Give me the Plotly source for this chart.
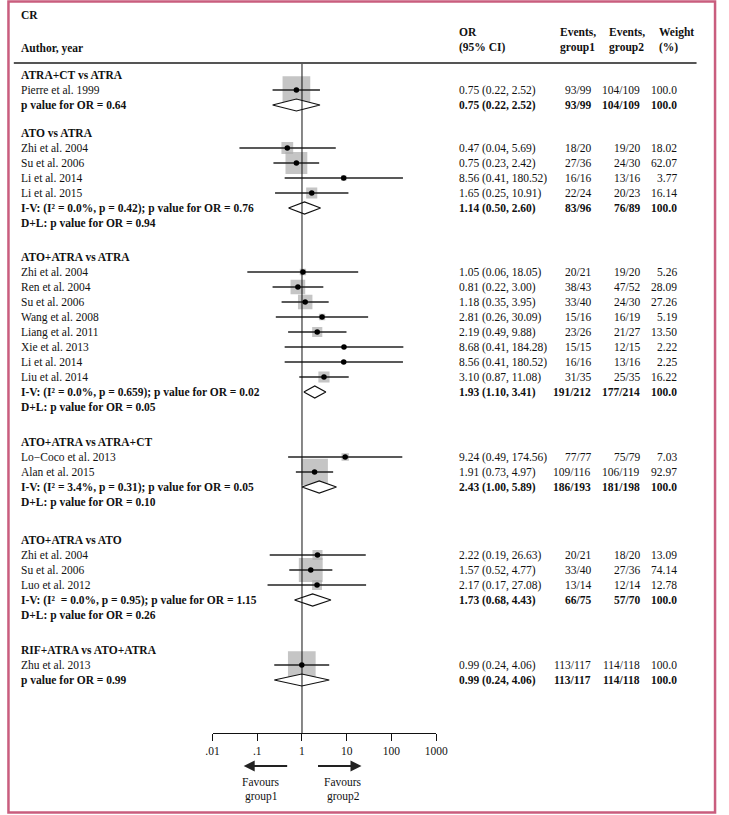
import math
import plotly.graph_objects as go

# ---------------- data ----------------
SECTION_TITLES = [
    "ATRA+CT vs ATRA",
    "ATO vs ATRA",
    "ATO+ATRA vs ATRA",
    "ATO+ATRA vs ATRA+CT",
    "ATO+ATRA vs ATO",
    "RIF+ATRA vs ATO+ATRA",
]

STUDY_SECTION = [0, 1, 1, 1, 1, 2, 2, 2, 2, 2, 2, 2, 2, 3, 3, 4, 4, 4, 5]
STUDY_NAMES = [
    "Pierre et al. 1999",
    "Zhi et al. 2004", "Su et al. 2006", "Li et al. 2014", "Li et al. 2015",
    "Zhi et al. 2004", "Ren et al. 2004", "Su et al. 2006", "Wang et al. 2008",
    "Liang et al. 2011", "Xie et al. 2013", "Li et al. 2014", "Liu et al. 2014",
    "Lo\u2212Coco et al. 2013", "Alan et al. 2015",
    "Zhi et al. 2004", "Su et al. 2006", "Luo et al. 2012",
    "Zhu et al. 2013",
]
STUDY_OR = [0.75, 0.47, 0.75, 8.56, 1.65, 1.05, 0.81, 1.18, 2.81, 2.19, 8.68, 8.56, 3.10,
            9.24, 1.91, 2.22, 1.57, 2.17, 0.99]
STUDY_LO = [0.22, 0.04, 0.23, 0.41, 0.25, 0.06, 0.22, 0.35, 0.26, 0.49, 0.41, 0.41, 0.87,
            0.49, 0.73, 0.19, 0.52, 0.17, 0.24]
STUDY_HI = [2.52, 5.69, 2.42, 180.52, 10.91, 18.05, 3.00, 3.95, 30.09, 9.88, 184.28, 180.52, 11.08,
            174.56, 4.97, 26.63, 4.77, 27.08, 4.06]
STUDY_EV1 = ["93/99", "18/20", "27/36", "16/16", "22/24", "20/21", "38/43", "33/40", "15/16",
             "23/26", "15/15", "16/16", "31/35", "77/77", "109/116", "20/21", "33/40", "13/14",
             "113/117"]
STUDY_EV2 = ["104/109", "19/20", "24/30", "13/16", "20/23", "19/20", "47/52", "24/30", "16/19",
             "21/27", "12/15", "13/16", "25/35", "75/79", "106/119", "18/20", "27/36", "12/14",
             "114/118"]
STUDY_WEIGHT = [100.0, 18.02, 62.07, 3.77, 16.14, 5.26, 28.09, 27.26, 5.19, 13.50, 2.22, 2.25, 16.22,
                7.03, 92.97, 13.09, 74.14, 12.78, 100.0]

POOLED_LABEL = [
    "p value for OR = 0.64",
    "I-V: (I\u00b2 = 0.0%, p = 0.42); p value for OR = 0.76",
    "I-V: (I\u00b2 = 0.0%, p = 0.659); p value for OR = 0.02",
    "I-V: (I\u00b2 = 3.4%, p = 0.31); p value for OR = 0.05",
    "I-V: (I\u00b2  = 0.0%, p = 0.95); p value for OR = 1.15",
    "p value for OR = 0.99",
]
DL_LABEL = [None, "D+L: p value for OR = 0.94", "D+L: p value for OR = 0.05",
            "D+L: p value for OR = 0.10", "D+L: p value for OR = 0.26", None]
POOLED_OR = [0.75, 1.14, 1.93, 2.43, 1.73, 0.99]
POOLED_LO = [0.22, 0.50, 1.10, 1.00, 0.68, 0.24]
POOLED_HI = [2.52, 2.60, 3.41, 5.89, 4.43, 4.06]
POOLED_EV1 = ["93/99", "83/96", "191/212", "186/193", "66/75", "113/117"]
POOLED_EV2 = ["104/109", "76/89", "177/214", "181/198", "57/70", "114/118"]
POOLED_WEIGHT = [100.0, 100.0, 100.0, 100.0, 100.0, 100.0]

TICK_VALUES = [0.01, 0.1, 1, 10, 100, 1000]
TICK_LABELS = [".01", ".1", "1", "10", "100", "1000"]

# ---------------- layout constants ----------------
W, H = 729, 815
FONT = "Liberation Serif"
FS = 11.5
AXIS_Y = 733          # pixel row of x axis line
HEADER_LINE_Y = 63
FIRST_Y = 75
STEP = 15
SECTION_GAPS = [0, 28, 34, 35, 38, 35]
X_NAME = 12
X_OR = 462
X_EV1_R = 602
X_EV2_R = 652
X_W_R = 690
X_EV1_H = 566
X_EV2_H = 616
X_W_H = 667
MAX_SQ = 27.7
GREY = "#adadad"
BORDER = "#c95d7e"


def fmt_or(e, lo, hi):
    return f"{e:.2f} ({lo:.2f}, {hi:.2f})"


def fmt_w(w):
    return "100.0" if abs(w - 100) < 1e-9 else f"{w:.2f}"


# build rows
rows = []
y = FIRST_Y
for s, title in enumerate(SECTION_TITLES):
    if s > 0:
        y = y + SECTION_GAPS[s]
    rows.append(dict(kind="header", y=y, s=s))
    for i, sec in enumerate(STUDY_SECTION):
        if sec == s:
            y += STEP
            rows.append(dict(kind="study", y=y, s=s, i=i))
    y += STEP
    rows.append(dict(kind="pooled", y=y, s=s))
    if DL_LABEL[s]:
        y += STEP
        rows.append(dict(kind="dl", y=y, s=s))

annotations = []


def txt(x, yy, s, anchor="left", bold=False, yref="y", size=FS):
    if bold:
        s = f"<b>{s}</b>"
    annotations.append(dict(
        x=x / W, xref="paper", y=yy if yref == "y" else 1 - yy / H, yref=yref,
        text=s, showarrow=False, xanchor=anchor, yanchor="middle",
        font=dict(family=FONT, size=size, color="#111111"),
    ))


# column headers
txt(X_NAME, 15, "CR", bold=True)
txt(X_NAME, 48, "Author, year", bold=True)
txt(X_OR, 32, "OR", bold=True)
txt(X_OR, 47, "(95% CI)", bold=True)
txt(X_EV1_H, 32, "Events,", bold=True)
txt(X_EV1_H, 47, "group1", bold=True)
txt(X_EV2_H, 32, "Events,", bold=True)
txt(X_EV2_H, 47, "group2", bold=True)
txt(X_W_H, 32, "Weight", bold=True)
txt(X_W_H, 47, "(%)", bold=True)

sq_x, sq_y, sq_s = [], [], []
ci_x, ci_y = [], []
dot_x, dot_y = [], []
dia_x, dia_y = [], []

for r in rows:
    yy = r["y"]
    s = r["s"]
    if r["kind"] == "header":
        txt(X_NAME, yy, SECTION_TITLES[s], bold=True)
    elif r["kind"] == "study":
        i = r["i"]
        txt(X_NAME, yy, STUDY_NAMES[i])
        txt(X_OR, yy, fmt_or(STUDY_OR[i], STUDY_LO[i], STUDY_HI[i]))
        txt(X_EV1_R, yy, STUDY_EV1[i], anchor="right")
        txt(X_EV2_R, yy, STUDY_EV2[i], anchor="right")
        txt(X_W_R, yy, fmt_w(STUDY_WEIGHT[i]), anchor="right")
        sq_x.append(STUDY_OR[i]); sq_y.append(yy)
        sq_s.append(MAX_SQ * math.sqrt(STUDY_WEIGHT[i] / 100.0))
        ci_x += [STUDY_LO[i], STUDY_HI[i], None]; ci_y += [yy, yy, None]
        dot_x.append(STUDY_OR[i]); dot_y.append(yy)
    elif r["kind"] == "pooled":
        txt(X_NAME, yy, POOLED_LABEL[s], bold=True)
        txt(X_OR, yy, fmt_or(POOLED_OR[s], POOLED_LO[s], POOLED_HI[s]), bold=True)
        txt(X_EV1_R, yy, POOLED_EV1[s], anchor="right", bold=True)
        txt(X_EV2_R, yy, POOLED_EV2[s], anchor="right", bold=True)
        txt(X_W_R, yy, fmt_w(POOLED_WEIGHT[s]), anchor="right", bold=True)
        dia_x += [POOLED_LO[s], POOLED_OR[s], POOLED_HI[s], POOLED_OR[s], POOLED_LO[s], None]
        dia_y += [yy, yy - 6, yy, yy + 6, yy, None]
    else:
        txt(X_NAME, yy, DL_LABEL[s], bold=True)

fig = go.Figure()
fig.add_trace(go.Scatter(x=sq_x, y=sq_y, mode="markers", hoverinfo="skip",
                         marker=dict(symbol="square", size=sq_s, color=GREY, line=dict(width=0))))
fig.add_trace(go.Scatter(x=dia_x, y=dia_y, mode="lines", fill="toself", fillcolor="white",
                         hoverinfo="skip", line=dict(color="#111111", width=1.2)))
fig.add_trace(go.Scatter(x=ci_x, y=ci_y, mode="lines", hoverinfo="skip",
                         line=dict(color="#222222", width=1.3)))
fig.add_trace(go.Scatter(x=[1, 1], y=[HEADER_LINE_Y, AXIS_Y], mode="lines", hoverinfo="skip",
                         line=dict(color="#111111", width=1)))
fig.add_trace(go.Scatter(x=dot_x, y=dot_y, mode="markers", hoverinfo="skip",
                         marker=dict(symbol="circle", size=5.5, color="#000000")))

# favours arrows and labels
for head, tail_dx in [(243, 45), (364, -45)]:
    annotations.append(dict(x=head / W, xref="paper", y=1 - 766 / H, yref="paper",
                            ax=tail_dx, ay=0, text="", showarrow=True, arrowhead=2,
                            arrowsize=1.1, arrowwidth=2, arrowcolor="#222222", standoff=0))
txt(261, 782, "Favours", anchor="center", yref="paper")
txt(261, 796, "group1", anchor="center", yref="paper")
txt(345, 782, "Favours", anchor="center", yref="paper")
txt(345, 796, "group2", anchor="center", yref="paper")

shapes = [
    dict(type="line", xref="paper", yref="paper", x0=7 / W, x1=708 / W,
         y0=1 - HEADER_LINE_Y / H, y1=1 - HEADER_LINE_Y / H, line=dict(color="#555555", width=2)),
    dict(type="rect", xref="paper", yref="paper", x0=1.5 / W, x1=727 / W, y0=1 - 812.5 / H, y1=1 - 1.5 / H,
         line=dict(color=BORDER, width=2.5)),
]

fig.update_layout(
    width=W, height=H, margin=dict(l=0, r=0, t=0, b=0),
    paper_bgcolor="white", plot_bgcolor="white", showlegend=False,
    annotations=annotations, shapes=shapes,
    xaxis=dict(type="log", range=[-2, 3], domain=[211 / W, 440.7 / W],
               showgrid=False, zeroline=False, showline=True, linecolor="#111111", linewidth=1,
               ticks="outside", ticklen=7, tickcolor="#111111", tickwidth=1,
               tickvals=TICK_VALUES, ticktext=TICK_LABELS,
               tickfont=dict(family=FONT, size=FS, color="#111111")),
    yaxis=dict(range=[AXIS_Y, 0], domain=[(H - AXIS_Y) / H, 1], visible=False),
)

fig.write_html("out.html", config={"displayModeBar": False},
               post_script="document.body.style.margin='0';document.body.style.overflow='hidden';")
